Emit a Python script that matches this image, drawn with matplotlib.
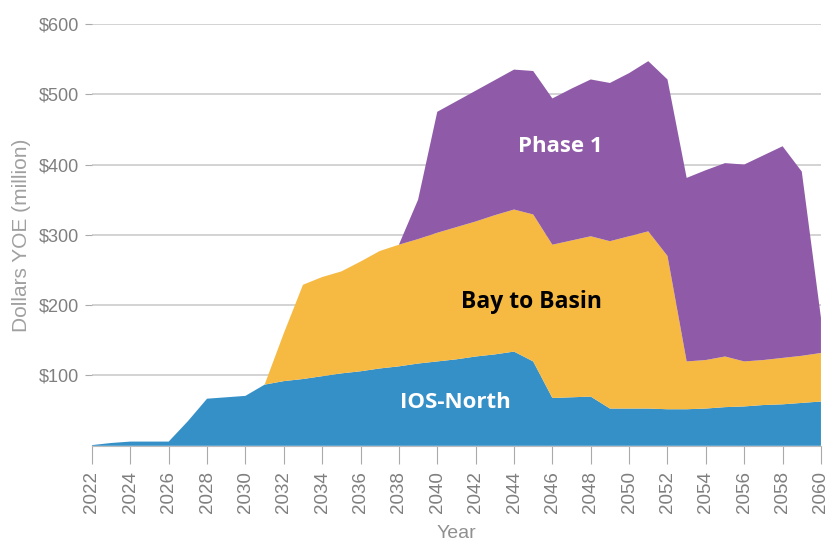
import numpy as np
import matplotlib.pyplot as plt
from matplotlib import font_manager

# annual spending, $ million (year of expenditure)
years = list(range(2022, 2061))
ios_north = [1, 4, 6, 6, 6, 35, 67, 69, 71, 87,
             92, 95, 99, 103, 106, 110, 113, 117, 120, 123,
             127, 130, 134, 120, 68, 69, 70, 53, 53, 53,
             52, 52, 53, 55, 56, 58, 59, 61, 63]
bay_to_basin = [0, 0, 0, 0, 0, 0, 0, 0, 0, 0,
                68, 134, 141, 145, 156, 167, 173, 177, 183, 188,
                192, 198, 202, 209, 218, 223, 228, 238, 245, 252,
                218, 68, 69, 72, 64, 64, 66, 67, 69]
phase_1 = [0, 0, 0, 0, 0, 0, 0, 0, 0, 0,
           0, 0, 0, 0, 0, 0, 0, 56, 172, 179,
           186, 192, 199, 204, 208, 216, 223, 225, 232, 242,
           251, 261, 270, 275, 280, 291, 301, 262, 50]

series_names = ["IOS-North", "Bay to Basin", "Phase 1"]
colors = ["#3590c8", "#f6b942", "#8f5aa8"]

installed = {f.name for f in font_manager.fontManager.ttflist}
narrow = "Liberation Sans Narrow" if "Liberation Sans Narrow" in installed else "Liberation Sans"
plt.rcParams["font.family"] = [narrow, "DejaVu Sans"]
label_font = ["Open Sans", "DejaVu Sans"]

fig = plt.figure(figsize=(8.36, 5.43), dpi=100)
ax = fig.add_axes([0.110, 0.179, 0.872, 0.777])

ax.stackplot(years, ios_north, bay_to_basin, phase_1, colors=colors,
             labels=series_names, linewidth=0, zorder=2)

ax.set_xlim(2022, 2060)
ax.set_ylim(0, 600)
ax.set_yticks(range(100, 601, 100))
ax.set_yticklabels([f"${v}" for v in range(100, 601, 100)])
ax.set_xticks(range(2022, 2061, 2))
ax.set_xticklabels([str(y) for y in range(2022, 2061, 2)], rotation=90)

ax.grid(axis="y", color="#cccccc", linewidth=1.2, zorder=0)
for side in ["top", "right", "left"]:
    ax.spines[side].set_visible(False)
ax.spines["bottom"].set_color("#bbbbbb")

ax.tick_params(axis="y", length=5, width=0.8, color="#aaaaaa", labelcolor="#7f7f7f",
               labelsize=13, pad=4)
ax.tick_params(axis="x", length=13, width=0.8, color="#aaaaaa", labelcolor="#7f7f7f",
               labelsize=13.5, pad=5)

ax.set_xlabel("Year", color="#909090", fontsize=14, labelpad=9)
ax.set_ylabel("Dollars YOE (million)", color="#a0a0a0", fontsize=15, labelpad=6)

# series labels inside the bands
ax.text(2046.4, 426, "Phase 1", color="white", fontsize=16, fontweight="bold",
        ha="center", va="center", family=label_font, zorder=3)
ax.text(2044.9, 204, "Bay to Basin", color="black", fontsize=16.5, fontweight="bold",
        ha="center", va="center", family=label_font, zorder=3)
ax.text(2040.95, 61, "IOS-North", color="white", fontsize=16, fontweight="bold",
        ha="center", va="center", family=label_font, zorder=3)

fig.savefig("out.png", dpi=100)
